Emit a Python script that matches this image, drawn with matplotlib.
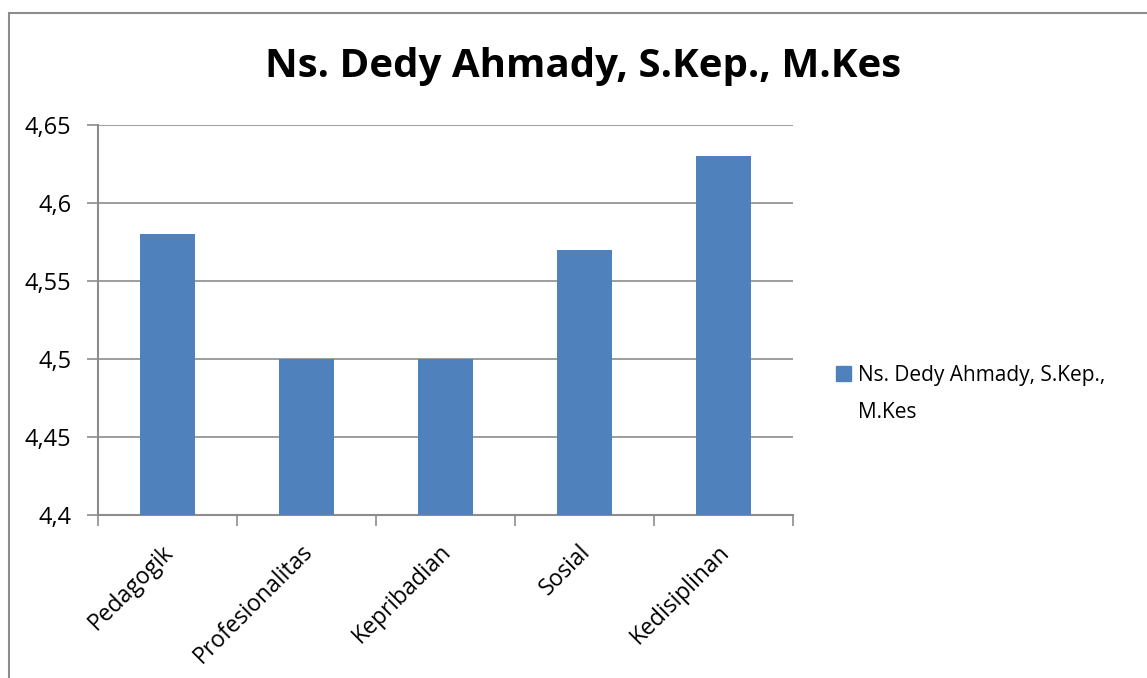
import matplotlib.pyplot as plt
from matplotlib.patches import Rectangle
from matplotlib.transforms import ScaledTranslation

categories = ["Pedagogik", "Profesionalitas", "Kepribadian", "Sosial", "Kedisiplinan"]
values = [4.58, 4.50, 4.50, 4.57, 4.63]
yticks = [4.4, 4.45, 4.5, 4.55, 4.6, 4.65]
ytick_labels = ["4,4", "4,45", "4,5", "4,55", "4,6", "4,65"]
series_name = "Ns. Dedy Ahmady, S.Kep., M.Kes"
legend_lines = ["Ns. Dedy Ahmady, S.Kep.,", "M.Kes"]

plt.rcParams["font.family"] = ["Open Sans", "DejaVu Sans"]

fig = plt.figure(figsize=(11.47, 6.78), dpi=100)
# chart frame like excel
fig.patches.append(Rectangle((9 / 1147, -0.1), 1.2, 1 - 13 / 678 + 0.1,
                             transform=fig.transFigure, fill=False,
                             edgecolor="#8c8c8c", linewidth=1.5))

ax = fig.add_axes([98 / 1147, 1 - 515 / 678, 695 / 1147, 390 / 678])
x = range(len(categories))
ax.bar(x, values, width=0.4, color="#4F81BD", zorder=3)
ax.set_ylim(4.4, 4.65)
ax.set_xlim(-0.5, len(categories) - 0.5)
ax.set_yticks(yticks)
ax.set_yticklabels(ytick_labels, fontsize=17)
ax.yaxis.grid(True, color="#8c8c8c", linewidth=1.2, zorder=0)

ax.set_xticks([i - 0.5 for i in range(len(categories) + 1)])
ax.set_xticklabels([])
ax.set_xticks(list(x), minor=True)
ax.set_xticklabels(categories, minor=True, rotation=45, ha="right",
                   rotation_mode="anchor", fontsize=16.5)
ax.tick_params(axis="x", which="major", length=8, color="#8c8c8c", width=1.2, direction="out")
ax.tick_params(axis="x", which="minor", length=0, pad=18)
ax.tick_params(axis="y", length=8, color="#8c8c8c", width=1.2, pad=11)

# nudge category labels a bit left
shift = ScaledTranslation(-6 / 100, 0, fig.dpi_scale_trans)
for lab in ax.get_xticklabels(minor=True):
    lab.set_transform(lab.get_transform() + shift)

for s in ["top", "right"]:
    ax.spines[s].set_visible(False)
for s in ["left", "bottom"]:
    ax.spines[s].set_color("#8c8c8c")
    ax.spines[s].set_linewidth(1.5)

fig.text(0.508, 1 - 67 / 678, series_name, ha="center", va="center",
         fontsize=29, fontweight="bold")

# two-line legend entry, square only next to first line
handles = [Rectangle((0, 0), 1, 1, color="#4F81BD"),
           Rectangle((0, 0), 1, 1, alpha=0)]
leg = ax.legend(handles, legend_lines,
                loc="center left", bbox_to_anchor=(1.035, 0.31), frameon=False,
                fontsize=15, handlelength=0.7, handleheight=0.7, handletextpad=0.35,
                labelspacing=0.8)

fig.savefig("out.png", dpi=100)
